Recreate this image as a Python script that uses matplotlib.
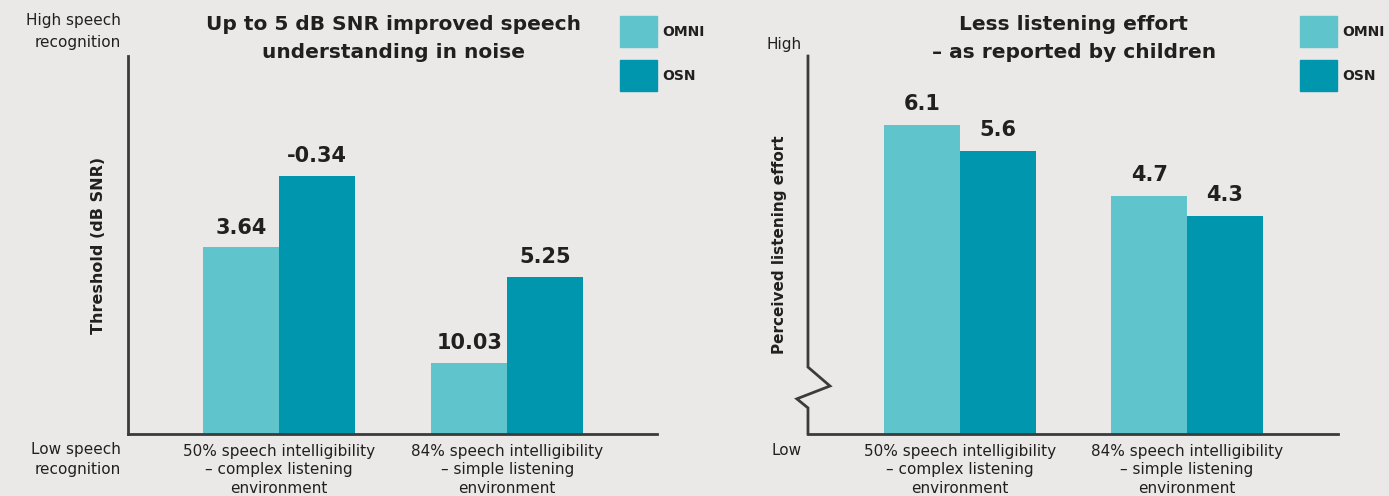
import numpy as np
import matplotlib
matplotlib.use("Agg")
import matplotlib.pyplot as plt

plt.rcParams['font.family'] = ['DejaVu Sans']

# data
groups = ["50% speech intelligibility\n– complex listening\nenvironment",
          "84% speech intelligibility\n– simple listening\nenvironment"]
series = ["OMNI", "OSN"]
snr_omni = [3.64, 10.03]
snr_osn = [-0.34, 5.25]
effort_omni = [6.1, 4.7]
effort_osn = [5.6, 4.3]

bg = "#ebe9e8"
c_omni = "#5fc4cc"
c_osn = "#0097ae"
ink = "#231f20"
axc = "#3b3b3b"

fig = plt.figure(figsize=(13.89, 4.96), dpi=100, facecolor=bg)
ax1 = fig.add_axes([0.0922, 0.125, 0.381, 0.762])
ax2 = fig.add_axes([0.5817, 0.125, 0.3816, 0.762])

x = np.arange(len(groups))
w = 0.333

# left: threshold, inverted axis (lower dB SNR = better)
base = 13.96
ax1.bar(x - w / 2, np.array(snr_omni) - base, w, bottom=base, color=c_omni)
ax1.bar(x + w / 2, np.array(snr_osn) - base, w, bottom=base, color=c_osn)
ax1.set_ylim(base, -6.95)
ax1.set_xlim(-0.662, 1.658)
for i in range(len(groups)):
    ax1.annotate(f"{snr_omni[i]:.2f}", (x[i] - w / 2, snr_omni[i]), xytext=(0, 7),
                 textcoords="offset points", ha="center", va="bottom",
                 fontsize=15, fontweight="bold", color=ink)
    ax1.annotate(f"{snr_osn[i]:.2f}", (x[i] + w / 2, snr_osn[i]), xytext=(0, 7),
                 textcoords="offset points", ha="center", va="bottom",
                 fontsize=15, fontweight="bold", color=ink)

# right: listening effort
ax2.bar(x - w / 2, effort_omni, w, color=c_omni)
ax2.bar(x + w / 2, effort_osn, w, color=c_osn)
ax2.set_ylim(0, 7.47)
ax2.set_xlim(-0.67, 1.665)
for i in range(len(groups)):
    ax2.annotate(f"{effort_omni[i]:.1f}", (x[i] - w / 2, effort_omni[i]), xytext=(0, 8),
                 textcoords="offset points", ha="center", va="bottom",
                 fontsize=15, fontweight="bold", color=ink)
    ax2.annotate(f"{effort_osn[i]:.1f}", (x[i] + w / 2, effort_osn[i]), xytext=(0, 8),
                 textcoords="offset points", ha="center", va="bottom",
                 fontsize=15, fontweight="bold", color=ink)

for ax in (ax1, ax2):
    ax.set_facecolor("none")
    for s in ("top", "right"):
        ax.spines[s].set_visible(False)
    ax.spines["bottom"].set_color(axc)
    ax.spines["bottom"].set_linewidth(2)
    ax.spines["left"].set_color(axc)
    ax.spines["left"].set_linewidth(2)
    ax.set_yticks([])
    ax.set_xticks(x)
    ax.set_xticklabels(groups, fontsize=11, color=ink, linespacing=1.3)
    ax.tick_params(axis="x", length=0, pad=7)

# broken left axis on the right panel
ax2.spines["left"].set_visible(False)
ax2.plot([0, 0, 0.0415, -0.021, 0, 0], [1, 0.177, 0.127, 0.093, 0.069, 0],
         transform=ax2.transAxes, color=axc, lw=2, clip_on=False,
         solid_joinstyle="miter")

ax1.set_ylabel("Threshold (dB SNR)", fontsize=11.5, fontweight="bold", color=ink, labelpad=16)
ax2.set_ylabel("Perceived listening effort", fontsize=11, fontweight="bold", color=ink, labelpad=15)

# titles
fig.text(0.2835, 0.923, "Up to 5 dB SNR improved speech\nunderstanding in noise",
         ha="center", va="center", fontsize=14.5, fontweight="bold", color=ink, linespacing=1.6)
fig.text(0.7731, 0.923, "Less listening effort\n– as reported by children",
         ha="center", va="center", fontsize=14.5, fontweight="bold", color=ink, linespacing=1.6)

# axis end notes
fig.text(0.087, 0.937, "High speech\nrecognition", ha="right", va="center",
         fontsize=11, color=ink, linespacing=1.6)
fig.text(0.087, 0.073, "Low speech\nrecognition", ha="right", va="center",
         fontsize=11, color=ink, linespacing=1.4)
fig.text(0.577, 0.911, "High", ha="right", va="center", fontsize=11, color=ink)
fig.text(0.577, 0.091, "Low", ha="right", va="center", fontsize=11, color=ink)

# legends
for lx, tx in ((0.4464, 0.4766), (0.936, 0.9665)):
    for j, (name, col) in enumerate(zip(series, (c_omni, c_osn))):
        yb = 1 - (47 + 44 * j) / 496
        fig.patches.append(plt.Rectangle((lx, yb), 37 / 1389, 31 / 496,
                                         transform=fig.transFigure, color=col))
        fig.text(tx, yb + 15.5 / 496, name, ha="left", va="center",
                 fontsize=10, fontweight="bold", color=ink)

fig.savefig("out.png", dpi=100, facecolor=bg)
